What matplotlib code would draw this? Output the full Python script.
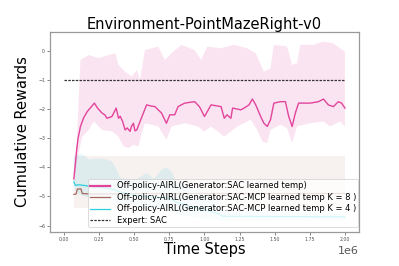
#!/usr/bin/env python3
"""Cumulative rewards vs time steps on PointMazeRight-v0."""

import matplotlib

matplotlib.use("Agg")
import matplotlib.pyplot as plt
import numpy as np

# x in units of 1e6 time steps
sac_x = [0.07, 0.09, 0.10, 0.117, 0.14, 0.165, 0.19, 0.216, 0.24, 0.27, 0.29, 0.306, 0.341, 0.371,
         0.388, 0.40, 0.417, 0.435, 0.45, 0.47, 0.48, 0.494, 0.505, 0.518, 0.541, 0.56, 0.588, 0.62,
         0.647, 0.694, 0.729, 0.753, 0.788, 0.812, 0.859, 0.93, 0.964, 1.0, 1.047, 1.118, 1.141,
         1.16, 1.188, 1.2, 1.259, 1.282, 1.317, 1.341, 1.365, 1.4, 1.423, 1.447, 1.47, 1.494, 1.541,
         1.576, 1.6, 1.624, 1.647, 1.67, 1.706, 1.753, 1.812, 1.847, 1.882, 1.918, 1.953, 1.976, 2.0]
sac_mean = [-4.4, -3.4, -3.0, -2.6, -2.3, -2.09, -1.95, -1.80, -1.98, -2.14, -2.2, -2.32, -2.26, -1.97,
            -2.32, -2.25, -2.43, -2.72, -2.65, -2.77, -2.6, -2.49, -2.75, -2.72, -2.43, -2.2, -1.86,
            -1.9, -1.92, -2.14, -2.49, -2.20, -2.20, -1.92, -1.80, -1.75, -1.92, -2.26, -1.86, -1.92,
            -2.32, -2.2, -2.32, -1.97, -2.03, -1.97, -1.86, -1.66, -1.86, -2.26, -2.49, -2.60, -2.37,
            -1.80, -1.75, -1.75, -2.26, -2.60, -2.14, -1.80, -1.80, -1.80, -1.75, -1.66, -1.86, -1.92,
            -1.75, -1.80, -1.97]

sac_up_x = [0.07, 0.09, 0.117, 0.176, 0.247, 0.318, 0.365, 0.388, 0.435, 0.482, 0.518, 0.541, 0.576,
            0.671, 0.718, 0.765, 0.835, 0.93, 0.976, 1.02, 1.118, 1.21, 1.306, 1.365, 1.423, 1.47,
            1.494, 1.588, 1.624, 1.659, 1.682, 1.776, 1.847, 1.918, 1.965, 2.0]
sac_up = [-4.4, -3.2, -0.32, -0.15, -0.26, -0.15, -0.09, -0.49, -0.72, -0.89, -0.66, -1.0, 0.02,
          0.14, -0.32, -0.09, 0.2, 0.02, -0.32, 0.14, 0.08, 0.2, 0.08, -0.09, -0.72, -0.6,
          0.2, 0.14, -0.49, -0.43, 0.2, 0.2, 0.31, 0.25, 0.08, -0.03]

sac_low_x = [0.07, 0.10, 0.13, 0.176, 0.212, 0.27, 0.341, 0.388, 0.424, 0.459, 0.494, 0.53, 0.553,
             0.576, 0.671, 0.729, 0.765, 0.859, 0.953, 1.0, 1.047, 1.141, 1.188, 1.235, 1.329, 1.376,
             1.412, 1.447, 1.47, 1.541, 1.588, 1.624, 1.659, 1.753, 1.847, 1.894, 1.965, 2.0]
sac_low = [-4.5, -3.6, -2.95, -2.72, -2.43, -2.72, -2.77, -2.95, -3.29, -3.34, -3.23, -3.29, -2.83,
           -2.49, -2.6, -3.06, -2.6, -2.49, -2.6, -2.77, -2.6, -2.95, -2.77, -2.6, -2.37, -2.72,
           -3.12, -3.17, -2.72, -2.54, -2.66, -3.17, -2.6, -2.49, -2.43, -2.6, -2.43, -2.6]

mcp8_x = [0.07, 0.085, 0.095, 0.12, 0.13, 0.19, 0.6, 1.0, 1.5, 2.0]
mcp8_mean = [-4.93, -4.92, -4.75, -4.74, -4.9, -4.92, -4.9, -4.9, -4.9, -4.9]
mcp8_up = [-3.62, -3.62, -3.62, -3.62, -3.62, -3.62, -3.62, -3.62, -3.62, -3.62]
mcp8_low = [-5.4, -5.4, -5.4, -5.4, -5.4, -5.4, -5.4, -5.4, -5.4, -5.4]

mcp4_x = [0.07, 0.08, 0.10, 0.14, 0.176, 0.19, 0.27, 0.341, 0.376, 0.4, 0.5, 0.588, 0.64, 0.694,
          0.729, 0.765, 0.8, 0.9, 1.0, 1.1, 1.13, 1.5, 2.0]
mcp4_mean = [-4.5, -4.62, -4.6, -4.62, -4.65, -4.66, -4.7, -4.75, -4.8, -4.85, -4.95, -5.0, -5.05,
             -5.05, -5.05, -5.1, -5.2, -5.35, -5.45, -5.6, -5.68, -5.69, -5.7]
mcp4_up = [-3.62, -3.58, -3.55, -3.57, -3.74, -3.72, -3.69, -3.8, -4.09, -4.37, -4.45, -4.2, -4.4,
           -4.09, -4.0, -4.14, -4.5, -4.7, -4.9, -5.2, -5.5, -5.55, -5.6]
mcp4_low = [-4.6, -4.8, -4.9, -5.0, -5.05, -5.05, -5.1, -5.15, -5.2, -5.25, -5.35, -5.4, -5.45,
            -5.45, -5.45, -5.5, -5.6, -5.7, -5.75, -5.8, -5.82, -5.82, -5.82]

expert_x = [0.0, 2.0]
expert_y = [-1.0, -1.0]

PINK = "#e2449c"
BROWN = "#a8675c"
CYAN = "#2ccfdc"


def band(ax, ux, uy, lx, ly, color, alpha):
    xs = np.concatenate([ux, lx[::-1]]) * 1e6
    ys = np.concatenate([uy, ly[::-1]])
    ax.fill(xs, ys, color=color, alpha=alpha, linewidth=0)


fig = plt.figure(figsize=(3.99, 2.66), dpi=100)
ax = fig.add_axes([0.1253, 0.1278, 0.7744, 0.752])

band(ax, np.array(sac_up_x), np.array(sac_up), np.array(sac_low_x), np.array(sac_low), PINK, 0.14)
band(ax, np.array(mcp8_x), np.array(mcp8_up), np.array(mcp8_x), np.array(mcp8_low), BROWN, 0.09)
band(ax, np.array(mcp4_x), np.array(mcp4_up), np.array(mcp4_x), np.array(mcp4_low), CYAN, 0.12)

sx = np.array(sac_x) * 1e6
ax.plot(sx, sac_mean, color=PINK, linewidth=1.0,
        label="Off-policy-AIRL(Generator:SAC learned temp)")
ax.plot(np.array(mcp8_x) * 1e6, mcp8_mean, color=BROWN, linewidth=0.9,
        label="Off-policy-AIRL(Generator:SAC-MCP learned temp K = 8 )")
ax.plot(np.array(mcp4_x) * 1e6, mcp4_mean, color=CYAN, linewidth=0.9,
        label="Off-policy-AIRL(Generator:SAC-MCP learned temp K = 4 )")
ax.plot(np.array(expert_x) * 1e6, expert_y, color="#333333", linestyle="--", linewidth=0.9,
        dashes=(2, 1), label="Expert: SAC")

ax.set_xlim(-0.1e6, 2.1e6)
ax.set_ylim(-6.22, 0.64)
ax.set_xticks(np.arange(0, 2.01e6, 0.25e6))
ax.set_yticks(range(-6, 1))
ax.tick_params(labelsize=3.4, length=2, width=0.5, colors="#555555", pad=1.5)
ax.xaxis.get_offset_text().set_fontsize(8)
for s in ax.spines.values():
    s.set_color("#999999")
    s.set_linewidth(0.9)

ax.set_title("Environment-PointMazeRight-v0", fontsize=10.5, pad=2)
ax.set_xlabel("Time Steps", fontsize=10.5, labelpad=0)
ax.set_ylabel("Cumulative Rewards", fontsize=10.5, labelpad=6)

leg = ax.legend(loc="lower left", bbox_to_anchor=(0.123, 0.025), borderaxespad=0,
                fontsize=6.0, handlelength=2.4, handletextpad=0.8, borderpad=0.25,
                labelspacing=0.3, framealpha=0.8)
leg.get_frame().set_linewidth(0.6)
for line in leg.get_lines()[:1]:
    line.set_linewidth(1.6)

fig.savefig("out.png", dpi=100)
